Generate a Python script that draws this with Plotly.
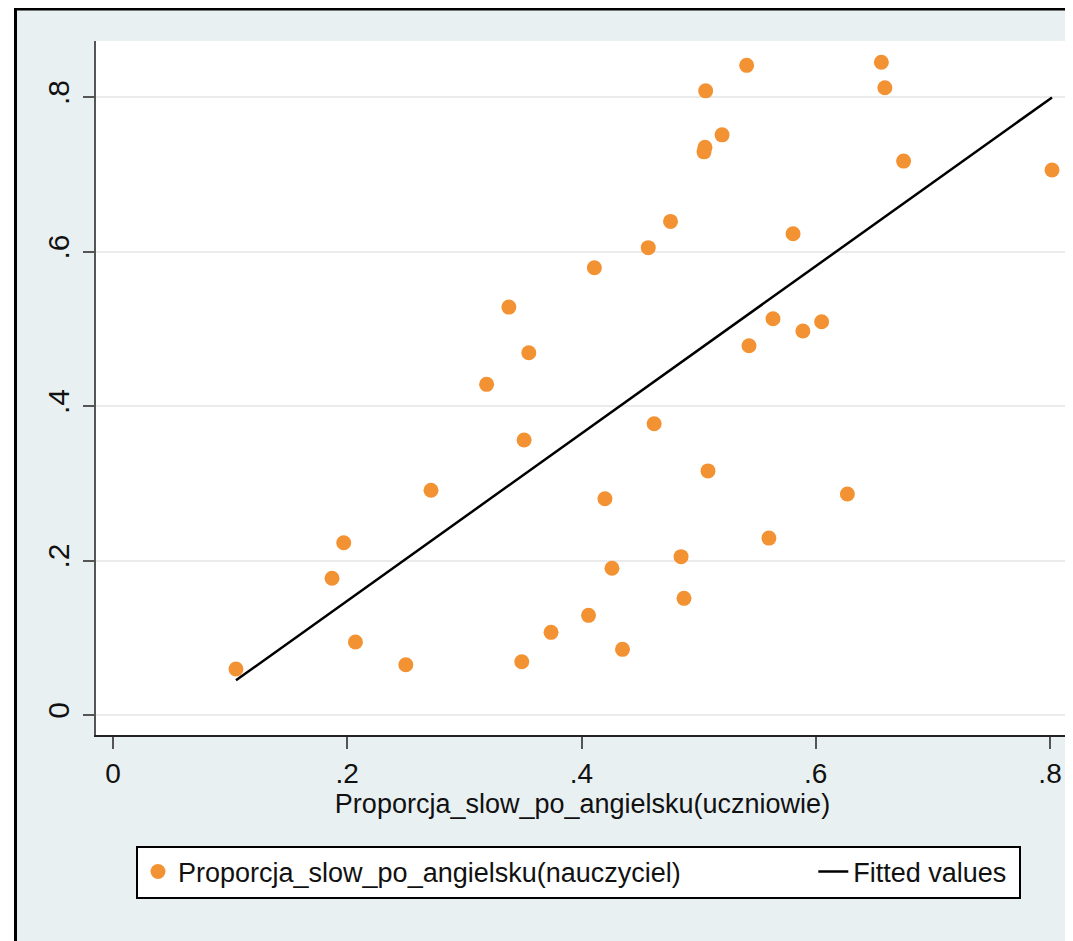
import numpy as np
import plotly.graph_objects as go

# Data
uczniowie = [0.105, 0.187, 0.197, 0.207, 0.250, 0.2715, 0.319, 0.338, 0.351, 0.355,
             0.349, 0.374, 0.406, 0.411, 0.420, 0.426, 0.435, 0.457, 0.462, 0.476,
             0.485, 0.4875, 0.5046, 0.5054, 0.506, 0.508, 0.520, 0.541, 0.543, 0.560,
             0.5635, 0.5806, 0.589, 0.605, 0.627, 0.656, 0.659, 0.675, 0.8017]
nauczyciel = [0.0595, 0.177, 0.223, 0.0945, 0.065, 0.291, 0.428, 0.528, 0.356, 0.469,
              0.069, 0.107, 0.129, 0.579, 0.280, 0.190, 0.085, 0.605, 0.377, 0.639,
              0.205, 0.151, 0.729, 0.735, 0.808, 0.316, 0.751, 0.841, 0.478, 0.229,
              0.513, 0.623, 0.497, 0.509, 0.286, 0.845, 0.812, 0.717, 0.7055]

tick_vals = [0, 0.2, 0.4, 0.6, 0.8]
tick_text = ["0", ".2", ".4", ".6", ".8"]

x_title = "Proporcja_slow_po_angielsku(uczniowie)"
scatter_name = "Proporcja_slow_po_angielsku(nauczyciel)"
fit_name = "Fitted values"

# Linear fit
xa = np.array(uczniowie)
ya = np.array(nauczyciel)
slope, intercept = np.polyfit(xa, ya, 1)
fx = np.array([xa.min(), xa.max()])
fy = intercept + slope * fx

FONT = "Liberation Sans, Arial, sans-serif"
BG = "#E9F0F2"
NBSP = "\u00a0"

fig = go.Figure()
fig.add_trace(go.Scatter(
    x=uczniowie, y=nauczyciel, mode="markers", name=scatter_name + NBSP * 17,
    marker=dict(color="#F39233", size=15, line=dict(width=0)),
))
fig.add_trace(go.Scatter(
    x=fx, y=fy, mode="lines", name=fit_name + NBSP * 1,
    line=dict(color="black", width=2.5),
))

# page body has an 8px margin, so the figure is laid out 8px smaller
OFF = 8
W, H = 1073 - OFF, 941 - OFF
L, R, T, B = 96 - OFF, 4, 41 - OFF, 941 - 735
pw, ph = W - L - R, H - T - B

def px2x(px):
    return (px - OFF - L) / pw

def py2y(py):
    return (H - B - (py - OFF)) / ph

shapes = [
    dict(type="rect", xref="paper", yref="paper", x0=px2x(0), x1=px2x(14),
         y0=py2y(H + 30), y1=py2y(-10), fillcolor="white", line=dict(width=0), layer="below"),
    dict(type="line", xref="paper", yref="paper", x0=px2x(14), x1=px2x(1100),
         y0=py2y(9), y1=py2y(9), line=dict(color="black", width=3)),
    dict(type="line", xref="paper", yref="paper", x0=px2x(15.5), x1=px2x(15.5),
         y0=py2y(7), y1=py2y(1000), line=dict(color="black", width=3)),
]

fig.update_layout(
    width=W, height=H,
    margin=dict(l=L, r=R, t=T, b=B, autoexpand=False),
    paper_bgcolor=BG, plot_bgcolor="white",
    shapes=shapes,
    showlegend=True,
    legend=dict(
        orientation="h", x=px2x(136), xanchor="left", y=py2y(872), yanchor="middle",
        bgcolor="white", bordercolor="black", borderwidth=2,
        font=dict(family=FONT, size=27, color="#111111"),
    ),
    xaxis=dict(
        range=[-0.0145, 0.8162], tickvals=tick_vals, ticktext=tick_text, automargin=False,
        showgrid=False, zeroline=False, showline=True, linecolor="#222222", linewidth=2,
        ticks="outside", ticklen=12, tickwidth=2, tickcolor="#555555",
        tickfont=dict(family=FONT, size=28, color="#111111"),
        title=dict(text=x_title, font=dict(family=FONT, size=27, color="#111111"), standoff=4),
    ),
    yaxis=dict(
        range=[-0.0259, 0.8725], tickvals=tick_vals, ticktext=tick_text, automargin=False,
        showgrid=True, gridcolor="#EBEBEB", gridwidth=1.5, zeroline=False,
        showline=True, linecolor="#555555", linewidth=2,
        ticks="outside", ticklen=11, tickwidth=2, tickcolor="#555555",
        tickangle=-90, ticklabelstandoff=2,
        tickfont=dict(family=FONT, size=30, color="#111111"),
    ),
)

fig.write_html("out.html")
